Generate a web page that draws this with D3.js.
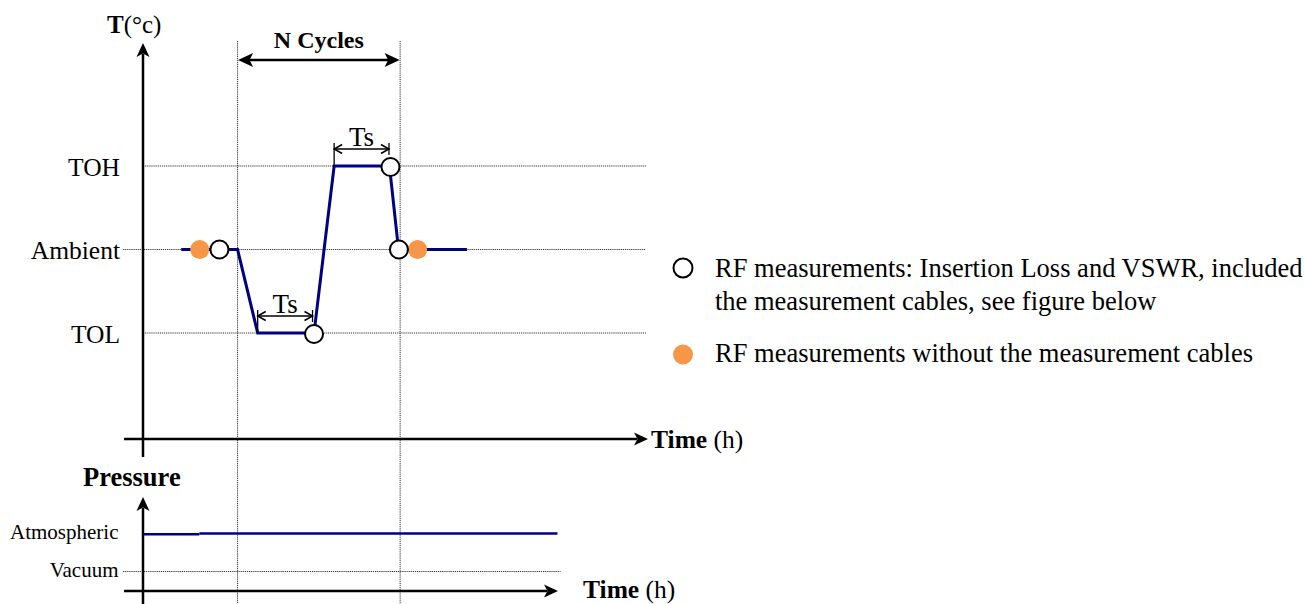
<!DOCTYPE html>
<html><head><meta charset="utf-8">
<script src="https://cdn.jsdelivr.net/npm/d3@7"></script>
<style>
body{margin:0;background:#fff}
svg{display:block}
text{font-family:"Liberation Serif","Times New Roman",serif;fill:#000}
</style>
</head><body>
<svg id="c" width="1306" height="604"></svg>
<script>
// ---------- data ----------
const tempLevels = ["TOL", "Ambient", "TOH"];
const tempLevelValues = [-1, 0, 1];
const tempProfileTime = [1.9, 4.7, 5.7, 8.5, 9.5, 12.25, 12.7, 16.1];
const tempProfileLevel = [0, 0, -1, -1, 1, 1, 0, 0];
const cycleBounds = [4.7, 12.78];
const withCableTime = [3.8, 8.5, 12.3, 12.72];
const withCableLevel = [0, -1, 1, 0];
const noCableTime = [2.82, 13.65];
const noCableLevel = [0, 0];
const soakStart = [5.7, 9.5];
const soakEnd = [8.5, 12.3];
const soakLevel = [-1, 1];
const pressureLevels = ["Vacuum", "Atmospheric"];
const pressureLevelValues = [0, 1];
const pressureStart = [0, 2.8];
const pressureEnd = [2.8, 20.6];
const pressureValue = [0.985, 1.01];
const legendLines = [
  ["RF measurements: Insertion Loss and VSWR, included", "the measurement cables, see figure below"],
  ["RF measurements without the measurement cables"]
];

// ---------- scales ----------
const svg = d3.select("#c");
const x = d3.scaleLinear().domain([0, 25]).range([143, 646]);
const yT = d3.scaleLinear().domain([-1, 1]).range([333, 166]);
const yP = d3.scaleLinear().domain([0, 1]).range([571.5, 533.8]);
const NAVY = "#000080", ORANGE = "#F79646";

function arrowHead(g, tx, ty, ang, L, W, notch) {
  const c = Math.cos(ang), s = Math.sin(ang);
  const pt = (a, b) => [tx - a * c - b * (-s), ty - a * s - b * c];
  const p1 = pt(L, W), p2 = pt(L - notch, 0), p3 = pt(L, -W);
  g.append("path").attr("d", `M${tx},${ty}L${p1}L${p2}L${p3}Z`).attr("fill", "#000");
}
function openHead(g, tx, ty, ang) {
  const c = Math.cos(ang), s = Math.sin(ang), L = 8, W = 4.5;
  const p1 = [tx - L * c + W * s, ty - L * s - W * c];
  const p3 = [tx - L * c - W * s, ty - L * s + W * c];
  g.append("path").attr("d", `M${p1}L${tx},${ty}L${p3}`).attr("fill", "none").attr("stroke", "#000").attr("stroke-width", 1.5);
}
const dotted = sel => sel.attr("stroke", "#333").attr("stroke-width", 1).attr("stroke-dasharray", "1.2,0.9");

// ---------- grid ----------
const grid = svg.append("g");
tempLevelValues.forEach((v, i) => {
  grid.append("line").attr("x1", v === 0 ? 123 : x(0)).attr("x2", x(25))
    .attr("y1", yT(v)).attr("y2", yT(v)).call(dotted);
});
grid.append("line").attr("x1", 123).attr("x2", x(20.75)).attr("y1", yP(0)).attr("y2", yP(0)).call(dotted);
cycleBounds.forEach(t => {
  grid.append("line").attr("x1", x(t)).attr("x2", x(t)).attr("y1", 41).attr("y2", 604).call(dotted);
});

// ---------- axes ----------
const ax = svg.append("g");
// temperature axes
ax.append("line").attr("x1", 143).attr("x2", 143).attr("y1", 54).attr("y2", 457).attr("stroke", "#000").attr("stroke-width", 2.5);
arrowHead(ax, 143, 43, -Math.PI / 2, 14, 6.5, 3.5);
ax.append("line").attr("x1", 124).attr("x2", 637).attr("y1", 439).attr("y2", 439).attr("stroke", "#000").attr("stroke-width", 2.5);
arrowHead(ax, 648, 439, 0, 14, 6.5, 3.5);
// pressure axes
ax.append("line").attr("x1", 143).attr("x2", 143).attr("y1", 508).attr("y2", 604).attr("stroke", "#000").attr("stroke-width", 2.5);
arrowHead(ax, 143, 497, -Math.PI / 2, 14, 6.5, 3.5);
ax.append("line").attr("x1", 124).attr("x2", 547).attr("y1", 591).attr("y2", 591).attr("stroke", "#000").attr("stroke-width", 2.5);
arrowHead(ax, 558, 591, 0, 14, 6.5, 3.5);

// level labels
tempLevels.forEach((lab, i) => {
  svg.append("text").attr("x", 120).attr("y", yT(tempLevelValues[i]) + 9.5)
    .attr("text-anchor", "end").attr("font-size", 25.5).text(lab);
});
pressureLevels.forEach((lab, i) => {
  svg.append("text").attr("x", 118.5).attr("y", yP(pressureLevelValues[i]) + 5.5)
    .attr("text-anchor", "end").attr("font-size", 21).text(lab);
});

// axis titles
const tt = svg.append("text").attr("x", 107).attr("y", 33).attr("font-size", 25);
tt.append("tspan").attr("font-weight", "bold").text("T");
tt.append("tspan").text("(°c)");
[[651, 448], [583, 598]].forEach(([tx, ty]) => {
  const t = svg.append("text").attr("x", tx).attr("y", ty).attr("font-size", 25.5);
  t.append("tspan").attr("font-weight", "bold").text("Time");
  t.append("tspan").text(" (h)");
});
svg.append("text").attr("x", 83).attr("y", 486).attr("font-size", 26.5).attr("font-weight", "bold").text("Pressure");

// ---------- N cycles ----------
const nc = svg.append("g");
const ncY = 60;
nc.append("line").attr("x1", x(cycleBounds[0]) + 10).attr("x2", x(cycleBounds[1]) - 10)
  .attr("y1", ncY).attr("y2", ncY).attr("stroke", "#000").attr("stroke-width", 2.5);
arrowHead(nc, x(cycleBounds[0]) + 0.5, ncY, Math.PI, 15, 7, 3.5);
arrowHead(nc, x(cycleBounds[1]) - 0.5, ncY, 0, 15, 7, 3.5);
nc.append("text").attr("x", (x(cycleBounds[0]) + x(cycleBounds[1])) / 2).attr("y", 48)
  .attr("text-anchor", "middle").attr("font-size", 24).attr("font-weight", "bold").text("N Cycles");

// ---------- temperature profile ----------
const line = d3.line().x(d => x(d[0])).y(d => yT(d[1]));
svg.append("path").datum(tempProfileTime.map((t, i) => [t, tempProfileLevel[i]]))
  .attr("d", line).attr("fill", "none").attr("stroke", NAVY).attr("stroke-width", 3).attr("stroke-linejoin", "miter");

// ---------- Ts annotations ----------
const ts = svg.append("g");
soakStart.forEach((s, i) => {
  const lvl = soakLevel[i];
  const ay = yT(lvl) - 17;
  const x1 = x(s), x2 = x(soakEnd[i]) - 1.5;
  ts.append("line").attr("x1", x1).attr("x2", x1).attr("y1", ay - 6).attr("y2", yT(lvl))
    .attr("stroke", "#000").attr("stroke-width", 1.3);
  ts.append("line").attr("x1", x2).attr("x2", x2).attr("y1", ay - 6).attr("y2", ay + 6)
    .attr("stroke", "#000").attr("stroke-width", 1.3);
  ts.append("line").attr("x1", x1).attr("x2", x2).attr("y1", ay).attr("y2", ay)
    .attr("stroke", "#000").attr("stroke-width", 1.5);
  openHead(ts, x1, ay, Math.PI);
  openHead(ts, x2, ay, 0);
  ts.append("text").attr("x", (x1 + x2) / 2).attr("y", ay - 3.5).attr("text-anchor", "middle")
    .attr("font-size", 27).text("Ts");
});

// ---------- measurement markers ----------
svg.append("g").selectAll("circle.nc").data(noCableTime.map((t, i) => [t, noCableLevel[i]]))
  .join("circle").attr("cx", d => x(d[0])).attr("cy", d => yT(d[1])).attr("r", 9.5).attr("fill", ORANGE);
svg.append("g").selectAll("circle.wc").data(withCableTime.map((t, i) => [t, withCableLevel[i]]))
  .join("circle").attr("cx", d => x(d[0])).attr("cy", d => yT(d[1]) + (d[1] !== 0 ? 1 : 0)).attr("r", 9)
  .attr("fill", "#fff").attr("stroke", "#000").attr("stroke-width", 2);

// ---------- pressure profile ----------
pressureStart.forEach((s, i) => {
  svg.append("line").attr("x1", x(s)).attr("x2", x(pressureEnd[i]))
    .attr("y1", yP(pressureValue[i])).attr("y2", yP(pressureValue[i]))
    .attr("stroke", NAVY).attr("stroke-width", 2.5);
});

// ---------- legend ----------
const lg = svg.append("g");
lg.append("circle").attr("cx", 683).attr("cy", 268).attr("r", 9.5).attr("fill", "#fff").attr("stroke", "#000").attr("stroke-width", 2);
lg.append("circle").attr("cx", 683).attr("cy", 354.5).attr("r", 10).attr("fill", ORANGE);
const baseY = [[277, 310], [362]];
legendLines.forEach((lines, i) => {
  lines.forEach((l, j) => {
    lg.append("text").attr("x", 715).attr("y", baseY[i][j]).attr("font-size", 26.5).text(l);
  });
});
</script>
</body></html>
